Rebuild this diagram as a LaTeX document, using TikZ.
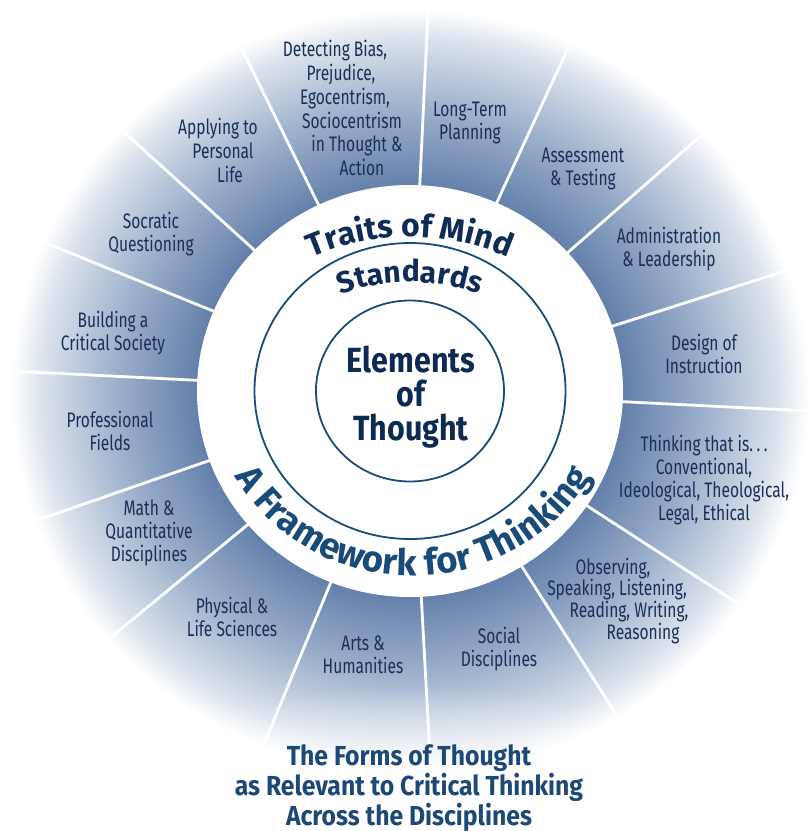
\documentclass[tikz,border=0pt]{standalone}
\usepackage{fontspec}
\usetikzlibrary{decorations.text,fadings}
\newfontfamily\labfont[FakeStretch=0.74]{Fira Sans}
\newfontfamily\hdfont[FakeStretch=0.87]{Fira Sans}
\newfontfamily\ttlfont[FakeStretch=0.9]{Fira Sans}
\newfontfamily\arcfont{Fira Sans}
\definecolor{labc}{HTML}{1A2F57}
\definecolor{centc}{HTML}{0C2A52}
\definecolor{arcc}{HTML}{0E2C55}
\definecolor{fwc}{HTML}{184A7A}
\definecolor{titc}{HTML}{1C4977}
\definecolor{ringc}{HTML}{1B4B78}
\definecolor{gdark}{HTML}{6581AB}
\definecolor{gmid}{HTML}{9DB0CC}
\definecolor{glight}{HTML}{DAE1EB}
\pgfdeclareradialshading{ringshade}{\pgfpoint{0bp}{0bp}}{color(0bp)=(gdark); color(13.5bp)=(gdark); color(18.5bp)=(gmid); color(23bp)=(glight); color(25bp)=(white); color(50bp)=(white)}
\tikzfading[name=bfade, inner color=transparent!0, outer color=transparent!100]
\tikzset{
  sepline/.style={white, line width=2.8pt},
  ringline/.style={draw=ringc, line width=1.8pt},
  labtext/.style={font=\labfont\fontsize{21}{23}\selectfont, text=labc, align=center, inner sep=0pt},
  labline/.style={font=\labfont\fontsize{21}{23}\selectfont, text=labc, inner sep=0pt, anchor=base},
  centtext/.style={font=\hdfont\bfseries\fontsize{35}{34}\selectfont, text=centc, align=center, inner sep=0pt},
  titletext/.style={font=\ttlfont\bfseries\fontsize{27.5}{30}\selectfont, text=titc, align=center, inner sep=0pt}
}
\begin{document}
\begin{tikzpicture}[x=1pt,y=1pt]
\useasboundingbox (0,0) rectangle (810,-831);
\fill[white] (0,0) rectangle (810,-831);
\coordinate (C) at (410,-391);
\coordinate (TC) at (410,-485);
\coordinate (FC) at (413,-381);
% shaded outer disk
\shade[shading=ringshade] (C) ellipse [x radius=399, y radius=382];
% separators
\foreach \a in {87.4,66.2,42.5,18.5,-3.0,-34.1,-58.6,-87.0,-111.6,-139.3,-160.1,-183.0,-203.0,-223.4,-244.8}
  \draw[sepline] (C) -- ++(\a:399 and 382);
% bottom fade
\fill[white, path fading=bfade] (410,-805) ellipse [x radius=330, y radius=120];
% white ring and circles
\fill[white] (C) ellipse [x radius=213, y radius=206];
\draw[ringline] (C) ellipse [x radius=155.5, y radius=148];
\draw[ringline] (C) ellipse [x radius=94, y radius=90.5];
% curved texts
\path[decorate, decoration={text along path, text align=center,
  text={|\arcfont\bfseries\fontsize{32}{32}\selectfont\color{arcc}|Traits of Mind}}]
  ([shift={(TC)}]125:248) arc[start angle=125, end angle=55, radius=248];
\path[decorate, decoration={text along path, text align=center,
  text={|\arcfont\bfseries\fontsize{30}{30}\selectfont\color{arcc}|Standards}}]
  ([shift={(TC)}]130:203) arc[start angle=130, end angle=50, radius=203];
\path[decorate, decoration={text along path, text align=center,
  text={|\arcfont\bfseries\fontsize{36.5}{36.5}\selectfont\color{fwc}|A Framework for Thinking}}]
  ([shift={(FC)}]185:204 and 195) arc[start angle=185, end angle=355, x radius=204, y radius=195];
% centre
\node[centtext] (elem) at (411,-397) {Elements\\of\\Thought};
% sector labels
\node[labline] (d1) at (335,-56) {Detecting Bias,};
\node[labline] (d2) at (341,-80) {Prejudice,};
\node[labline] (d3) at (345,-104) {Egocentrism,};
\node[labline] (d4) at (352,-128) {Sociocentrism};
\node[labline] (d5) at (357,-151.5) {in Thought \&};
\node[labline] (d6) at (362,-175.5) {Action};
\node[labtext] (ltp) at (470,-123) {Long-Term\\Planning};
\node[labtext] (ast) at (583,-169) {Assessment\\\& Testing};
\node[labtext] (adm) at (669,-249) {Administration\\\& Leadership};
\node[labtext] (dsg) at (704,-354) {Design of\\Instruction};
\node[labtext] (thk) at (704,-480) {Thinking that is.\,.\,.\\Conventional,\\Ideological, Theological,\\Legal, Ethical};
\node[labline] (o1) at (613,-574) {Observing,};
\node[labline] (o2) at (617,-595) {Speaking, Listening,};
\node[labline] (o3) at (629,-617) {Reading, Writing,};
\node[labline] (o4) at (643,-639) {Reasoning};
\node[labtext] (soc) at (499,-649) {Social\\Disciplines};
\node[labtext] (art) at (363,-655) {Arts \&\\Humanities};
\node[labtext] (phy) at (232,-617) {Physical \&\\Life Sciences};
\node[labtext] (mth) at (149,-533) {Math \&\\Quantitative\\Disciplines};
\node[labtext] (prf) at (110,-431) {Professional\\Fields};
\node[labtext] (bld) at (113,-333) {Building a\\Critical Society};
\node[labtext] (scr) at (151,-234) {Socratic\\Questioning};
\node[labline] (a1) at (218,-134) {Applying to};
\node[labline] (a2) at (223,-158) {Personal};
\node[labline] (a3) at (230,-182) {Life};
% title
\node[titletext] (ttl) at (409,-788) {The Forms of Thought\\as Relevant to Critical Thinking\\Across the Disciplines};
\end{tikzpicture}
\end{document}
